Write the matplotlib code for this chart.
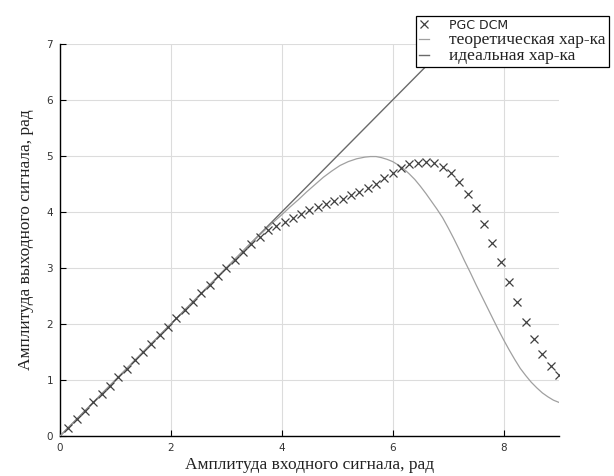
import numpy as np
import matplotlib
matplotlib.use("Agg")
import matplotlib.pyplot as plt

# =====================================================================
# DATA
# =====================================================================

# PGC DCM measured points
pgc_x = [0.15, 0.30, 0.45, 0.60, 0.75, 0.90, 1.05, 1.20, 1.35, 1.50,
         1.65, 1.80, 1.95, 2.10, 2.25, 2.40, 2.55, 2.70, 2.85, 3.00,
         3.15, 3.30, 3.45, 3.60, 3.75, 3.90, 4.05, 4.20, 4.35, 4.50,
         4.65, 4.80, 4.95, 5.10, 5.25, 5.40, 5.55, 5.70, 5.85, 6.00,
         6.15, 6.30, 6.45, 6.60, 6.75, 6.90, 7.05, 7.20, 7.35, 7.50,
         7.65, 7.80, 7.95, 8.10, 8.25, 8.40, 8.55, 8.70, 8.85, 9.00]
pgc_y = [0.15, 0.30, 0.45, 0.60, 0.75, 0.90, 1.05, 1.20, 1.35, 1.50,
         1.65, 1.80, 1.95, 2.10, 2.25, 2.40, 2.55, 2.70, 2.85, 3.00,
         3.14, 3.28, 3.42, 3.55, 3.68, 3.75, 3.83, 3.90, 3.96, 4.03,
         4.09, 4.14, 4.19, 4.24, 4.30, 4.36, 4.42, 4.50, 4.60, 4.69,
         4.78, 4.85, 4.88, 4.89, 4.87, 4.80, 4.69, 4.53, 4.33, 4.08,
         3.78, 3.45, 3.10, 2.75, 2.39, 2.04, 1.73, 1.47, 1.25, 1.09]

# theoretical characteristic
theo_x = [0.0, 3.4, 3.55, 3.7, 3.85, 4.0, 4.15, 4.3, 4.45, 4.6, 4.75,
          4.9, 5.05, 5.2, 5.35, 5.5, 5.6, 5.7, 5.8,
          5.9, 6.0, 6.1, 6.2, 6.3, 6.4, 6.5, 6.6, 6.7, 6.8, 6.9, 7.0,
          7.1, 7.2, 7.3, 7.4, 7.5, 7.6, 7.7, 7.8,
          7.9, 8.0, 8.1, 8.2, 8.3, 8.4, 8.5, 8.6, 8.7, 8.8, 8.9, 9.0]
theo_y = [0.0, 3.40, 3.54, 3.68, 3.82, 3.95, 4.09, 4.22, 4.36, 4.49, 4.62,
          4.73, 4.83, 4.90, 4.95, 4.98, 4.99, 4.99, 4.97,
          4.94, 4.90, 4.84, 4.77, 4.68, 4.58, 4.46, 4.33, 4.19, 4.05, 3.90, 3.72,
          3.53, 3.33, 3.12, 2.92, 2.71, 2.51, 2.31, 2.11,
          1.91, 1.72, 1.54, 1.37, 1.21, 1.08, 0.96, 0.86, 0.77, 0.70, 0.64, 0.60]

# ideal characteristic
ideal_x = [0.0, 7.0]
ideal_y = [0.0, 7.0]

x_ticks = [0, 2, 4, 6, 8]
y_ticks = [0, 1, 2, 3, 4, 5, 6, 7]

# =====================================================================
# PLOT
# =====================================================================

fig = plt.figure(figsize=(6.14, 4.76), dpi=100)
ax = fig.add_axes([0.0977, 0.084, 0.8127, 0.8236])

ax.plot(pgc_x, pgc_y, linestyle="none", marker="x", markersize=5.2,
        markeredgewidth=0.9, color="#404040", label="PGC DCM", zorder=4)
ax.plot(theo_x, theo_y, color="#a0a0a0", linewidth=0.9,
        label="теоретическая хар-ка", zorder=3)
ax.plot(ideal_x, ideal_y, color="#6a6a6a", linewidth=1.0,
        label="идеальная хар-ка", zorder=2)

ax.set_xlim(0, 9)
ax.set_ylim(0, 7)
ax.set_xticks(x_ticks)
ax.set_yticks(y_ticks)

ax.grid(True, color="#dcdcdc", linewidth=0.8)
ax.set_axisbelow(True)

for side in ["top", "right"]:
    ax.spines[side].set_visible(False)
for side in ["left", "bottom"]:
    ax.spines[side].set_linewidth(1.0)
    ax.spines[side].set_color("black")

ax.tick_params(direction="in", length=4, width=0.8, labelsize=7.5,
               labelcolor="#333333", pad=5)
for lab in ax.get_xticklabels() + ax.get_yticklabels():
    lab.set_fontfamily("DejaVu Sans")

ax.set_xlabel("Амплитуда входного сигнала, рад", fontfamily="Liberation Serif",
              fontsize=12.5, color="#222222", labelpad=3)
ax.set_ylabel("Амплитуда выходного сигнала, рад", fontfamily="Liberation Serif",
              fontsize=12.5, color="#222222", labelpad=9)

# legend sticks out past the right edge, like in the original
leg = fig.legend(loc="upper left", bbox_to_anchor=(416 / 614, 1 - 16 / 476),
                 frameon=True, fancybox=False, edgecolor="black",
                 framealpha=1.0, handlelength=0.7, handletextpad=1.5,
                 borderpad=0.2, labelspacing=0.0, borderaxespad=0.0)
leg.get_frame().set_linewidth(0.9)
texts = leg.get_texts()
texts[0].set_fontfamily("DejaVu Sans")
texts[0].set_fontsize(9)
texts[0].set_color("#222222")
for t in texts[1:]:
    t.set_fontfamily("Liberation Serif")
    t.set_fontsize(12.5)
    t.set_color("#222222")

fig.savefig("out.png", dpi=100)
